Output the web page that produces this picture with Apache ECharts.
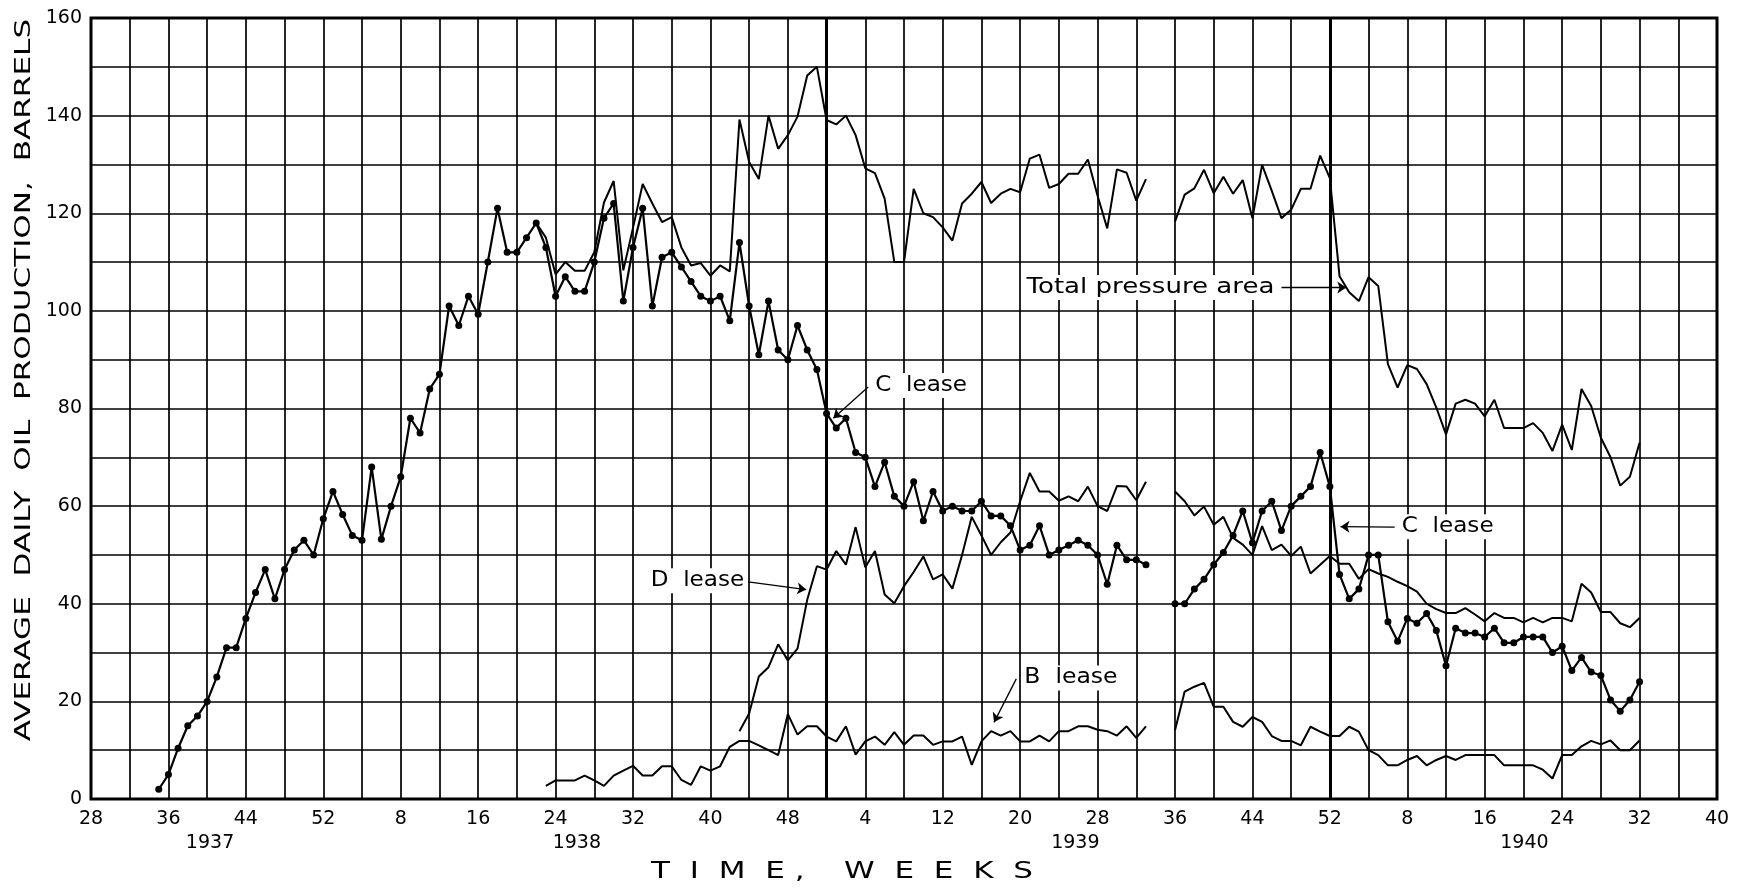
<!DOCTYPE html>
<html>
<head>
<meta charset="utf-8">
<script src="https://cdn.jsdelivr.net/npm/echarts@6/dist/echarts.min.js"></script>
<style>
  html, body { margin: 0; padding: 0; background: #fff; }
  #chart { width: 1739px; height: 888px; }
</style>
</head>
<body>
<div id="chart"></div>
<script>
// x = week index, 0 = week 28 of 1937, one step = one week
const weekTicks = ['28', '36', '44', '52', '8', '16', '24', '32', '40', '48', '4',
  '12', '20', '28', '36', '44', '52', '8', '16', '24', '32', '40'];
const years = ['1937', '1938', '1939', '1940'];

// C lease, weekly from index 7 (null = no reading)
const cLeaseStart = 7;
const cLease = [
  2, 5, 10.4, 15, 17, 20, 25, 31, 31, 37,
  42.3, 47, 41, 47, 51, 53, 50, 57.4, 63, 58.3,
  54, 53, 68, 53.2, 60, 66, 78, 75, 84, 87,
  101, 97, 103, 99.3, 110, 121, 112, 112, 115, 118,
  113, 103, 107, 104, 104, 110, 119, 122, 102, 113,
  121, 101, 111, 112, 109, 106, 103, 102, 103, 98,
  114, 101, 91, 102, 92, 90, 97, 92, 88, 79,
  76, 78, 71, 70, 64, 69, 62, 60, 65, 57,
  63, 59, 60, 59, 59, 61, 58, 58, 56, 51,
  52, 56, 50, 51, 52, 53, 52, 50, 44, 52,
  49, 49, 48, null, null, 40, 40, 43, 45, 48,
  50.5, 54, 59, 52.5, 59, 61, 55, 60, 62, 64,
  71, 64, 46, 41, 43, 50, 50, 36.3, 32.3, 37,
  36, 38, 34.5, 27.3, 35, 34, 34, 33.2, 35, 32,
  32, 33.2, 33.2, 33.2, 30, 31.3, 26.3, 29, 26, 25.3,
  20.3, 18, 20.3, 24
];

// Total pressure area (same as C lease before index 46)
const totalStart = 46;
const totalArea = [
  118, 115, 107.5, 110, 108.2, 108.2, 112, 122.2, 126.6, 108.3,
  117, 126, 122, 118.2, 119.2, 113, 109.3, 109.8, 107.2, 109.3,
  108.1, 139.2, 130.5, 127, 140, 133.2, 136, 139.8, 148.2, 150,
  139.1, 138.2, 140, 136, 129.2, 128.2, 123, 110, 110, 125,
  120, 119.2, 117.1, 114.4, 122, 124, 126.4, 122.1, 124, 125,
  124.3, 131.2, 132, 125.2, 126, 128.1, 128.1, 131, 123.6, 116.9,
  129, 128.3, 122.6, 127, null, null, 118.3, 123.8, 125.1, 128.9,
  124.1, 127.5, 124, 126.8, 119, 129.9, 124.6, 119, 120.7, 125,
  125, 131.8, 127.2, 107.1, 103.8, 102, 106.9, 105.1, 89.1, 84.3,
  88.9, 88.1, 85, 80.2, 74.7, 81, 81.8, 81, 78.4, 81.8,
  76, 76, 76, 77, 75, 71.3, 76.7, 71.5, 84, 80.5,
  74, 70, 64.2, 66, 73
];

const dLeaseStart = 67;
const dLease = [
  13.9, 17.5, 25.1, 27, 31.7, 28.4, 30.8, 40.8, 47.7, 47,
  50.8, 48, 55.7, 47.5, 50.8, 41.9, 40.1, 43.6, 46.5, 49.7,
  45, 46, 43.1, 50, 57.8, 54, 50, 52.6, 54.6, 61,
  66.8, 63, 63, 61.1, 62, 61, 64, 60, 59, 64.1,
  64, 61.2, 65, null, null, 63, 61, 58.1, 59.9, 56.2,
  57.8, 53.5, 52.1, 50, 55.9, 51, 52.1, 49.8, 51.7, 46.2,
  48, 49.8, 48.2, 48.2, 45.1, 47.1, 46.2, 45.5, 44.5, 43.6,
  42.5, 40, 38.9, 38.1, 38.1, 39.1, 37.8, 36.4, 38.1, 37.1,
  37.1, 36.2, 37.1, 36.2, 37.1, 37.1, 36.4, 44.1, 42.3, 38.3,
  38.3, 36, 35.2, 37.1
];

const bLeaseStart = 47;
const bLease = [
  2.7, 3.8, 3.8, 3.8, 4.8, 3.8, 2.7, 4.8, 5.8, 6.8,
  4.8, 4.8, 6.7, 6.7, 3.9, 2.9, 6.7, 5.8, 6.7, 10.7,
  11.9, 11.9, 11, 10, 9, 17.4, 13.2, 14.9, 14.9, 12.8,
  11.8, 14.9, 9.1, 11.8, 12.8, 11.1, 13.7, 11.1, 13, 13,
  11.1, 11.8, 11.8, 12.8, 7, 11.8, 13.9, 13, 13.9, 11.8,
  11.8, 13, 11.8, 13.9, 13.9, 14.9, 14.9, 14.2, 13.9, 13,
  14.9, 12.5, 14.9, null, null, 14.1, 22, 23, 23.8, 18.9,
  18.9, 15.8, 14.8, 16.8, 15.8, 12.9, 11.9, 11.9, 11, 14.8,
  13.8, 12.9, 12.9, 14.8, 13.8, 10, 9, 6.9, 6.9, 8,
  8.8, 6.9, 8, 8.8, 8, 9, 9, 9, 9, 6.9,
  6.9, 6.9, 6.9, 6, 4.2, 9, 9, 10.8, 11.9, 11.2,
  12, 10, 10, 12
];

const ink = '#000';
const font = '"DejaVu Sans", sans-serif';

const chart = echarts.init(document.getElementById('chart'));

function toPoints(start, values) {
  return values.map((v, i) => [start + i, v === null ? '-' : v]);
}

function lineSeries(name, start, values, extra) {
  return Object.assign({
    name: name,
    type: 'line',
    data: toPoints(start, values),
    symbol: 'none',
    connectNulls: false,
    silent: true,
    lineStyle: { color: ink, width: 2 },
    itemStyle: { color: ink },
    z: 3
  }, extra || {});
}

// leader lines for the labels, in data coords [week, barrels]
const leaders = [
  [[123.0, 104.8], [129.7, 104.8]],
  [[80.3, 84.4], [76.7, 78.0]],
  [[67.9, 44.5], [73.9, 42.9]],
  [[95.6, 24.6], [93.3, 15.7]],
  [[134.7, 55.7], [129.1, 55.8]]
];

chart.setOption({
  animation: false,
  backgroundColor: '#fff',
  grid: {
    left: 91, right: 22, top: 18, bottom: 89,
    show: true, borderColor: ink, borderWidth: 3
  },
  xAxis: {
    type: 'value', min: 0, max: 168, interval: 4,
    axisLine: { show: false },
    axisTick: { show: false },
    splitLine: { show: true, lineStyle: { color: ink, width: 1.7 } },
    axisLabel: {
      margin: 11, color: ink, fontSize: 19, fontFamily: font,
      formatter: v => (Math.round(v) % 8 === 0 ? weekTicks[Math.round(v) / 8] : '')
    }
  },
  yAxis: {
    type: 'value', min: 0, max: 160, interval: 10,
    axisLine: { show: false },
    axisTick: { show: false },
    splitLine: { show: true, lineStyle: { color: ink, width: 1.7 } },
    axisLabel: {
      margin: 9, color: ink, fontSize: 19, fontFamily: font,
      formatter: v => (Math.round(v) % 20 === 0 ? String(Math.round(v)) : '')
    }
  },
  series: [
    lineSeries('Total pressure area', totalStart, totalArea, {
      markLine: {
        silent: true,
        symbol: 'none',
        label: { show: false },
        lineStyle: { color: ink, width: 3, type: 'solid' },
        data: [{ xAxis: 76 }, { xAxis: 128 }]
      }
    }),
    lineSeries('C lease', cLeaseStart, cLease, {
      symbol: 'circle', symbolSize: 7, showSymbol: true,
      lineStyle: { color: ink, width: 2.2 }
    }),
    lineSeries('D lease', dLeaseStart, dLease),
    lineSeries('B lease', bLeaseStart, bLease, {
      markLine: {
        silent: true,
        symbol: ['none', 'arrow'],
        symbolSize: 9,
        label: { show: false },
        lineStyle: { color: ink, width: 1.3, type: 'solid' },
        data: leaders.map(p => [{ coord: p[0] }, { coord: p[1] }])
      }
    })
  ]
});

const px = (w, v) => chart.convertToPixel({ gridIndex: 0 }, [w, v]);

const notes = [
  { text: 'Total pressure area', at: [96.4, 104.8], sx: 1.24 },
  { text: 'C  lease', at: [80.8, 84.7], sx: 1.1 },
  { text: 'D  lease', at: [57.6, 44.7], sx: 1.1 },
  { text: 'B  lease', at: [96.2, 24.8], sx: 1.12 },
  { text: 'C  lease', at: [135.2, 55.8], sx: 1.1 }
];
const yearAt = [12.3, 50.2, 101.7, 148.1];

const graphic = [];
notes.forEach(n => {
  const p = px(n.at[0], n.at[1]);
  graphic.push({
    type: 'text', x: p[0], y: p[1], scaleX: n.sx, z: 10,
    style: {
      text: n.text, font: '21px ' + font, fill: ink,
      textAlign: 'left', textVerticalAlign: 'middle',
      backgroundColor: '#fff', padding: [2, 2]
    }
  });
});
years.forEach((y, i) => {
  const p = px(yearAt[i], 0);
  graphic.push({
    type: 'text', x: p[0], y: 843, z: 10,
    style: {
      text: y, font: '19px ' + font, fill: ink,
      textAlign: 'center', textVerticalAlign: 'middle'
    }
  });
});
graphic.push({
  type: 'text', x: 842, y: 872, scaleX: 1.35, z: 10,
  style: {
    text: 'T  I  M  E ,    W  E  E  K  S', font: '23px ' + font, fill: ink,
    textAlign: 'center', textVerticalAlign: 'middle'
  }
});
graphic.push({
  type: 'text', x: 25, y: 380, rotation: Math.PI / 2, scaleX: 1.48, z: 10,
  style: {
    text: 'AVERAGE  DAILY  OIL  PRODUCTION,  BARRELS', font: '21px ' + font, fill: ink,
    textAlign: 'center', textVerticalAlign: 'middle'
  }
});

chart.setOption({ graphic: graphic });
window.addEventListener('resize', () => chart.resize());
</script>
</body>
</html>
